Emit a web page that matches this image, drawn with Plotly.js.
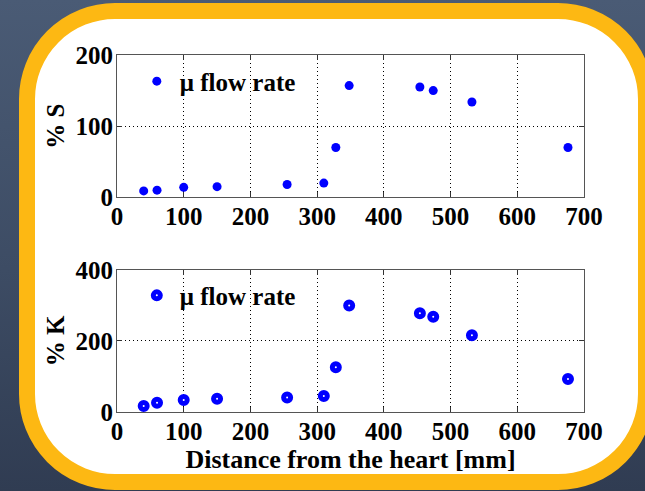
<!DOCTYPE html>
<html>
<head>
<meta charset="utf-8">
<script src="https://cdn.plot.ly/plotly-3.0.1.min.js"></script>
<style>
  html, body { margin:0; padding:0; width:645px; height:491px; overflow:hidden; }
  body { background: linear-gradient(to bottom, #4a5b75 0%, #3d4c64 55%, #303c52 100%); position:relative; }
  #frame { position:absolute; left:19px; top:3px; width:635px; height:487px; box-sizing:border-box;
           border:16.5px solid #FDB813; border-radius:96px; background:#ffffff; }
  #chart { position:absolute; left:0; top:0; width:645px; height:491px; }
</style>
</head>
<body>
<div id="frame"></div>
<div id="chart"></div>
<script>
// Data
const distance = [40, 60, 100, 150, 255, 310, 328, 348, 454, 474, 532, 676];
const pctS     = [9, 10, 14, 15, 18, 20, 70, 157, 155, 150, 134, 70];
const pctK     = [17, 26, 34, 37, 41, 45, 126, 300, 278, 268, 216, 93];
const xTicks   = [0, 100, 200, 300, 400, 500, 600, 700];
const sTicks   = [0, 100, 200];
const kTicks   = [0, 200, 400];
const seriesName = "\u03bc flow rate";

const FONT = "Liberation Serif";
const tickFont = {family: FONT, size: 25, color: '#000', weight: 'bold'};

const traces = [
  {x: distance, y: pctS, type: 'scatter', mode: 'markers', name: seriesName,
   xaxis: 'x', yaxis: 'y', legend: 'legend',
   marker: {color: '#0000FF', size: 9, symbol: 'circle'}},
  {x: distance, y: pctK, type: 'scatter', mode: 'markers', name: seriesName,
   xaxis: 'x2', yaxis: 'y2', legend: 'legend2',
   marker: {color: '#ffffff', size: 7, symbol: 'circle', line: {color: '#0000FF', width: 5}}}
];

function xAxis(anchor, title) {
  const a = {
    range: [0, 700], tickvals: xTicks, ticktext: xTicks.map(String),
    anchor: anchor, domain: [0, 1],
    showline: true, mirror: 'ticks', linecolor: '#555', linewidth: 1,
    ticks: 'inside', ticklen: 5, tickcolor: '#333',
    showgrid: true, gridcolor: '#000', griddash: '1px,3px', gridwidth: 1,
    zeroline: false, tickfont: tickFont, fixedrange: true, ticklabelstandoff: -3
  };
  if (title) a.title = {text: title, font: {family: FONT, size: 26, color: '#000', weight: 'bold'}, standoff: 2};
  return a;
}
function yAxis(anchor, domain, ticks, title) {
  return {
    range: [ticks[0], ticks[ticks.length - 1]], tickvals: ticks, ticktext: ticks.map(String),
    anchor: anchor, domain: domain,
    showline: true, mirror: 'ticks', linecolor: '#555', linewidth: 1,
    ticks: 'inside', ticklen: 5, tickcolor: '#333',
    showgrid: true, gridcolor: '#000', griddash: '1px,3px', gridwidth: 1,
    zeroline: false, tickfont: tickFont, fixedrange: true, ticklabelstandoff: -2,
    title: {text: title, font: {family: FONT, size: 25, color: '#000', weight: 'bold'}, standoff: 3}
  };
}

const legendCommon = {
  font: {family: FONT, size: 25, color: '#000', weight: 'bold'},
  bgcolor: 'rgba(0,0,0,0)', borderwidth: 0, xanchor: 'left', yanchor: 'middle', itemwidth: 36
};

const layout = {
  width: 645, height: 491,
  margin: {l: 117, r: 61, t: 55, b: 79},
  paper_bgcolor: 'rgba(0,0,0,0)', plot_bgcolor: 'rgba(0,0,0,0)',
  showlegend: true,
  xaxis: xAxis('y'),
  yaxis: yAxis('x', [0.6014, 1], sTicks, '% S'),
  xaxis2: xAxis('y2', 'Distance from the heart [mm]'),
  yaxis2: yAxis('x2', [0, 0.3978], kTicks, '% K'),
  legend: Object.assign({x: 0.036, y: 0.926}, legendCommon),
  legend2: Object.assign({x: 0.036, y: 0.326}, legendCommon)
};

Plotly.newPlot('chart', traces, layout, {displayModeBar: false, staticPlot: true});
</script>
</body>
</html>
